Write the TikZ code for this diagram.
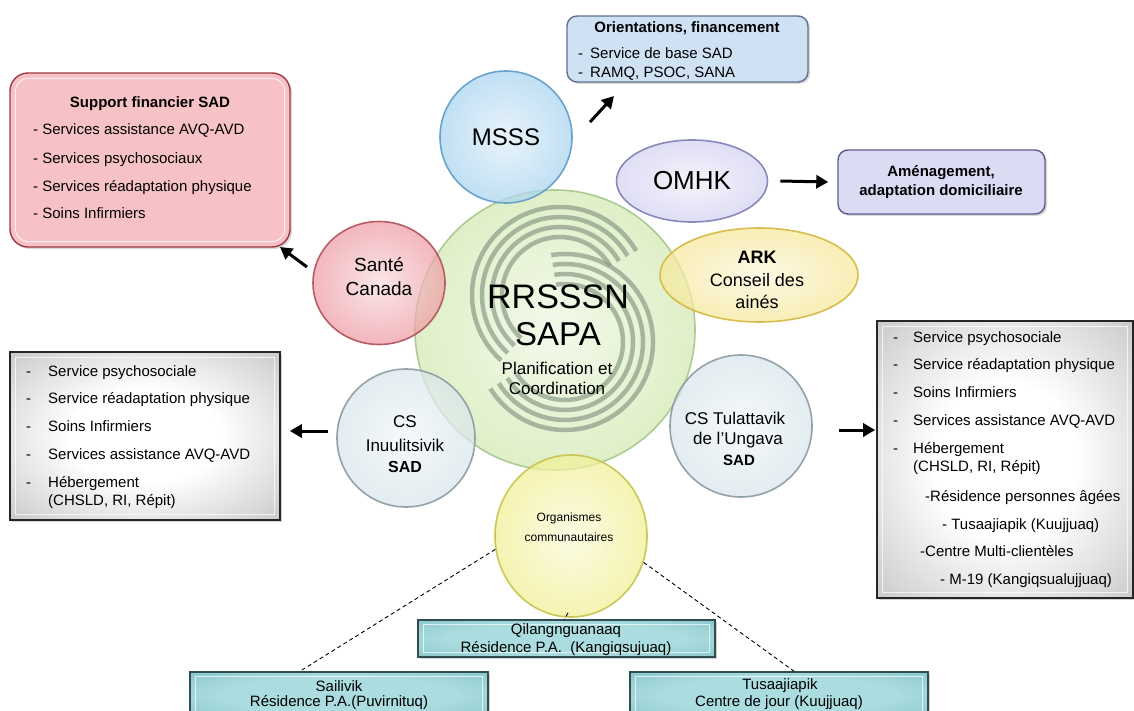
\documentclass[tikz,border=0pt]{standalone}
\usepackage{fontspec}
\setmainfont{Liberation Sans}
\usetikzlibrary{arrows.meta,shapes.geometric,shadows,calc}
\definecolor{pinkF}{HTML}{F7C2C5}
\definecolor{pinkD}{HTML}{9E3A45}
\definecolor{blueF}{HTML}{CFE2F4}
\definecolor{blueD}{HTML}{5F7090}
\definecolor{lavF}{HTML}{DCDBF4}
\definecolor{lavD}{HTML}{5E5E8E}
\definecolor{grayM}{HTML}{BABABA}
\definecolor{grayO}{HTML}{888888}
\definecolor{tealI}{HTML}{ABDCDF}
\definecolor{tealO}{HTML}{5BAAB0}
\definecolor{tealD}{HTML}{2F4E50}
\definecolor{msssC}{HTML}{A9D4F0}
\definecolor{msssR}{HTML}{5E9CC8}
\definecolor{omhkC}{HTML}{D4D2F2}
\definecolor{omhkR}{HTML}{7E7EB5}
\definecolor{santeC}{HTML}{EE9CA4}
\definecolor{santeR}{HTML}{B34F5B}
\definecolor{arkC}{HTML}{F7E89A}
\definecolor{arkR}{HTML}{D4B840}
\definecolor{bigC}{HTML}{D3EAB2}
\definecolor{bigR}{HTML}{A7C68C}
\definecolor{csC}{HTML}{D9E6EC}
\definecolor{csR}{HTML}{8A9AA2}
\definecolor{orgC}{HTML}{F2F094}
\definecolor{orgR}{HTML}{C6C24A}
\definecolor{spiral}{HTML}{8C9C88}
\pgfdeclareradialshading{grayrad}{\pgfpoint{0bp}{0bp}}{color(0bp)=(white); color(14bp)=(white); color(42bp)=(grayM); color(52bp)=(grayO!85!grayM); color(72bp)=(grayO)}
\pgfdeclareradialshading{tealrad}{\pgfpoint{0bp}{0bp}}{color(0bp)=(tealI); color(20bp)=(tealI); color(46bp)=(tealO!70!tealI); color(72bp)=(tealO)}
\tikzset{
  lbl/.style={inner sep=0pt, anchor=west, font=\fontsize{15}{17}\selectfont, text height=11pt, text depth=3pt},
  ttl/.style={inner sep=0pt, font=\bfseries\fontsize{15}{17}\selectfont},
  ctr/.style={inner sep=0pt, font=\fontsize{15}{17}\selectfont},
  bubble/.style 2 args={shade, inner color=#1!35!white, outer color=#1, draw=#2, line width=1.6pt, fill opacity=0.72, draw opacity=0.9, text opacity=1, inner sep=0pt},
  pinkbox/.style={draw=pinkD, line width=1.4pt, rounded corners=18pt, fill=pinkF, drop shadow={opacity=0.3, shadow xshift=2pt, shadow yshift=-2pt}},
  bluebox/.style={draw=blueD, line width=1.4pt, rounded corners=10pt, fill=blueF, drop shadow={opacity=0.3, shadow xshift=2pt, shadow yshift=-2pt}},
  lavbox/.style={draw=lavD, line width=1.4pt, rounded corners=10pt, fill=lavF, drop shadow={opacity=0.3, shadow xshift=2pt, shadow yshift=-2pt}},
  graybox/.style={draw=black!85, line width=1.6pt, shade, shading=grayrad, drop shadow={opacity=0.35, shadow xshift=2pt, shadow yshift=-2pt}},
  tealbox/.style={draw=tealD, line width=1.6pt, shade, shading=tealrad, drop shadow={opacity=0.35, shadow xshift=2pt, shadow yshift=-2pt}},
  bevel/.style={draw=white, line width=1pt, draw opacity=0.7},
  arr/.style={line width=3pt, -{Triangle[length=12pt,width=13pt]}},
  dashln/.style={line width=0.9pt, dash pattern=on 4pt off 3pt},
  spi/.style={draw=spiral, line width=4.5pt, draw opacity=0.7},
}
\begin{document}
\begin{tikzpicture}[x=1pt,y=-1pt]
\useasboundingbox (0,0) rectangle (1134,711);
\fill[white] (0,0) rectangle (1134,711);

% ---------- boxes ----------
\node[pinkbox, minimum width=280pt, minimum height=174pt] (supp) at (150,160) {};
\draw[bevel, rounded corners=13pt] ([shift={(6,6)}]supp.north west) rectangle ([shift={(-6,-6)}]supp.south east);
\node[ttl] (suppT) at (150,104) {Support financier SAD};
\node[lbl] (s1) at (33,131) {- Services assistance AVQ-AVD};
\node[lbl] (s2) at (33,160) {- Services psychosociaux};
\node[lbl] (s3) at (33,188) {- Services réadaptation physique};
\node[lbl] (s4) at (33,215) {- Soins Infirmiers};

\node[bluebox, minimum width=241pt, minimum height=66pt] (orient) at (687.5,49) {};
\node[ttl] (orT) at (687,28) {Orientations, financement};
\node[lbl] (o1) at (578,55) {-\hspace{7pt}Service de base SAD};
\node[lbl] (o2) at (578,74) {-\hspace{7pt}RAMQ, PSOC, SANA};

\node[lavbox, minimum width=207pt, minimum height=64pt] (amen) at (941.5,182) {};
\node[ttl, align=center] (amT) at (941,182) {Aménagement,\\[2pt]adaptation domiciliaire};

\node[graybox, minimum width=270pt, minimum height=168pt] (lbox) at (145,436) {};
\draw[bevel] ([shift={(6,6)}]lbox.north west) rectangle ([shift={(-6,-6)}]lbox.south east);
\node[lbl] at (26,372) {-};\node[lbl] (l1) at (48,372) {Service psychosociale};
\node[lbl] at (26,399) {-};\node[lbl] (l2) at (48,399) {Service réadaptation physique};
\node[lbl] at (26,427) {-};\node[lbl] (l3) at (48,427) {Soins Infirmiers};
\node[lbl] at (26,455) {-};\node[lbl] (l4) at (48,455) {Services assistance AVQ-AVD};
\node[lbl] at (26,483) {-};\node[lbl] (l5) at (48,483) {Hébergement};
\node[lbl] (l6) at (48,501) {(CHSLD, RI, Répit)};

\node[graybox, minimum width=256pt, minimum height=277pt] (rbox) at (1005,459.5) {};
\draw[bevel] ([shift={(6,6)}]rbox.north west) rectangle ([shift={(-6,-6)}]rbox.south east);
\node[lbl] at (893,338) {-};\node[lbl] (r1) at (913,338) {Service psychosociale};
\node[lbl] at (893,365) {-};\node[lbl] (r2) at (913,365) {Service réadaptation physique};
\node[lbl] at (893,393) {-};\node[lbl] (r3) at (913,393) {Soins Infirmiers};
\node[lbl] at (893,421) {-};\node[lbl] (r4) at (913,421) {Services assistance AVQ-AVD};
\node[lbl] at (893,449) {-};\node[lbl] (r5) at (913,449) {Hébergement};
\node[lbl] (r6) at (913,467) {(CHSLD, RI, Répit)};
\node[lbl] (r7) at (925,497) {-Résidence personnes âgées};
\node[lbl] (r8) at (942,525) {- Tusaajiapik (Kuujjuaq)};
\node[lbl] (r9) at (920,552) {-Centre Multi-clientèles};
\node[lbl] (r10) at (940,580) {- M-19 (Kangiqsualujjuaq)};

\node[tealbox, minimum width=297pt, minimum height=37pt] (qil) at (566.5,638.5) {};
\draw[bevel] ([shift={(6,5)}]qil.north west) rectangle ([shift={(-6,-5)}]qil.south east);
\node[ctr] (qilT) at (566,631) {Qilangnguanaaq};
\node[ctr] (qilU) at (566,649) {Résidence P.A.\ \ (Kangiqsujuaq)};

\node[tealbox, minimum width=298pt, minimum height=46pt] (sail) at (339,695) {};
\draw[bevel] ([shift={(6,5)}]sail.north west) rectangle ([shift={(-6,-5)}]sail.south east);
\node[ctr] (sailT) at (339,686) {Sailivik};
\node[ctr] (sailU) at (339,703) {Résidence P.A.(Puvirnituq)};

\node[tealbox, minimum width=298pt, minimum height=46pt] (tusa) at (779,695) {};
\draw[bevel] ([shift={(6,5)}]tusa.north west) rectangle ([shift={(-6,-5)}]tusa.south east);
\node[ctr] (tusaT) at (780,686) {Tusaajiapik};
\node[ctr] (tusaU) at (779,703) {Centre de jour (Kuujjuaq)};

% ---------- big central circle ----------
\node[bubble={bigC}{bigR}, circle, minimum size=280pt] (big) at (555,330) {};
\foreach \r in {58,68,78,88} {
  \draw[spi] ([shift={(-30:\r)}]560,295) arc[start angle=-30, end angle=-228, radius=\r];
  \draw[spi] ([shift={(-99:\r)}]565,342) arc[start angle=-99, end angle=148, radius=\r];
}
\node[inner sep=0pt, font=\fontsize{34}{36}\selectfont] (rr) at (558,297) {RRSSSN};
\node[inner sep=0pt, font=\fontsize{33}{36}\selectfont] (sapa) at (558,334) {SAPA};
\node[inner sep=0pt, font=\fontsize{17}{19}\selectfont] (plan) at (557,368) {Planification et};
\node[inner sep=0pt, font=\fontsize{17}{19}\selectfont] (coord) at (557,388) {Coordination};

% ---------- satellite bubbles ----------
\node[bubble={msssC}{msssR}, circle, minimum size=132pt, font=\fontsize{24}{26}\selectfont] (msss) at (506,137) {MSSS};
\node[bubble={omhkC}{omhkR}, ellipse, minimum width=151pt, minimum height=82pt, font=\fontsize{26}{28}\selectfont] (omhk) at (692,181) {OMHK};
\node[bubble={santeC}{santeR}, ellipse, minimum width=132pt, minimum height=123pt] (sante) at (379,283) {};
\node[inner sep=0pt, font=\fontsize{19}{21}\selectfont] (santeT) at (379,265) {Santé};
\node[inner sep=0pt, font=\fontsize{19}{21}\selectfont] (santeU) at (379,289) {Canada};
\node[bubble={arkC}{arkR}, ellipse, minimum width=198pt, minimum height=94pt] (ark) at (759,275) {};
\node[inner sep=0pt, font=\bfseries\fontsize{18}{20}\selectfont] (arkT) at (757,257) {ARK};
\node[inner sep=0pt, font=\fontsize{18}{20}\selectfont] (arkU) at (757,280) {Conseil des};
\node[inner sep=0pt, font=\fontsize{18}{20}\selectfont] (arkV) at (757,302) {ainés};

\node[bubble={csC}{csR}, circle, minimum size=138pt] (csl) at (406,438) {};
\node[inner sep=0pt, font=\fontsize{17}{19}\selectfont] (cslT) at (405,422) {CS};
\node[inner sep=0pt, font=\fontsize{17}{19}\selectfont] (cslU) at (405,445) {Inuulitsivik};
\node[inner sep=0pt, font=\bfseries\fontsize{16}{18}\selectfont] (cslV) at (405,467) {SAD};

\node[bubble={csC}{csR}, circle, minimum size=142pt] (csr) at (741,426) {};
\node[inner sep=0pt, font=\fontsize{17}{19}\selectfont] (csrT) at (735,418) {CS Tulattavik};
\node[inner sep=0pt, font=\fontsize{17}{19}\selectfont] (csrU) at (738,440) {de l'Ungava};
\node[inner sep=0pt, font=\bfseries\fontsize{15}{17}\selectfont] (csrV) at (739,460) {SAD};

\node[bubble={orgC}{orgR}, ellipse, minimum width=152pt, minimum height=162pt] (org) at (571,536) {};
\node[inner sep=0pt, font=\fontsize{12}{14}\selectfont] (orgT) at (569,518) {Organismes};
\node[inner sep=0pt, font=\fontsize{12}{14}\selectfont] (orgU) at (569,537) {communautaires};

% ---------- arrows ----------
\coordinate (a1s) at (590,122); \coordinate (a1e) at (614,96);
\draw[arr] (a1s) -- (a1e);
\coordinate (a2s) at (307,267); \coordinate (a2e) at (280,247);
\draw[arr] (a2s) -- (a2e);
\draw[arr] (omhk.east) ++(12,0) -- ($(amen.west)+(-9,0)$);
\draw[arr] ($(csl.west)+(-8,-7)$) -- ($(lbox.east)+(9,-5)$);
\draw[arr] ($(csr.east)+(26,4)$) -- ($(rbox.west)+(-1,-29.5)$);

% ---------- dashed links ----------
\draw[dashln] (org.190) -- ($(sail.north west)!0.37!(sail.north east)$);
\draw[dashln] (org.-20) -- ($(tusa.north west)!0.55!(tusa.north east)$);
\draw[dashln] (org.south) ++(-3,-5) -- ($(qil.north)+(-2,0)$);
\end{tikzpicture}
\end{document}
